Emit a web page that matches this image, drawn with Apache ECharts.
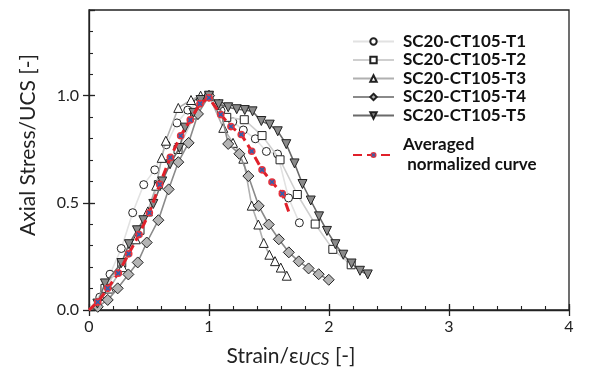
<!DOCTYPE html>
<html><head><meta charset="utf-8">
<script src="https://cdn.jsdelivr.net/npm/echarts@6/dist/echarts.min.js"></script>
<style>html,body{margin:0;padding:0;background:#fff}#c{width:590px;height:386px}</style>
</head><body><div id="c"></div>
<script>
// ---- data (strain/eps_UCS, stress/UCS) ----
var seriesNames = ['SC20-CT105-T1','SC20-CT105-T2','SC20-CT105-T3','SC20-CT105-T4','SC20-CT105-T5'];
var avgName = 'Averaged\n normalized curve';
var yTitle = 'Axial Stress/UCS [-]';
var xTicks = [0,1,2,3,4];
var yTicks = [0.0,0.5,1.0];

var t1 = [[0,0],[0.09,0.06],[0.175,0.167],[0.269,0.287],[0.364,0.454],[0.456,0.585],[0.548,0.654],[0.644,0.771],[0.733,0.873],[0.823,0.933],[0.91,0.97],[1.0,1.0],[1.1,0.93],[1.198,0.878],[1.286,0.84],[1.386,0.799],[1.478,0.74],[1.571,0.728],[1.663,0.523],[1.753,0.407]];
var t2 = [[0,0],[0.133,0.101],[0.273,0.219],[0.425,0.372],[0.578,0.585],[0.742,0.749],[0.88,0.91],[1.0,1.0],[1.148,0.899],[1.294,0.888],[1.442,0.814],[1.592,0.701],[1.736,0.539],[1.885,0.401],[2.032,0.283],[2.185,0.211]];
var t3 = [[0,0],[0.07,0.03],[0.17,0.1],[0.28,0.2],[0.39,0.33],[0.49,0.46],[0.56,0.58],[0.606,0.71],[0.64,0.79],[0.744,0.943],[0.85,0.98],[0.93,1.0],[1.0,1.0],[1.119,0.85],[1.2,0.78],[1.286,0.706],[1.356,0.487],[1.411,0.399],[1.456,0.313],[1.503,0.258],[1.55,0.228],[1.598,0.198],[1.648,0.16]];
var t4 = [[0,0],[0.073,0.015],[0.156,0.047],[0.239,0.101],[0.328,0.166],[0.406,0.222],[0.481,0.315],[0.578,0.419],[0.664,0.563],[0.744,0.69],[0.83,0.78],[0.908,0.915],[1.0,1.0],[1.086,0.958],[1.16,0.775],[1.253,0.729],[1.328,0.625],[1.414,0.486],[1.498,0.399],[1.582,0.33],[1.665,0.269],[1.748,0.227],[1.83,0.194],[1.914,0.167],[1.998,0.141]];
var t5 = [[0,0],[0.07,0.03],[0.133,0.124],[0.27,0.219],[0.333,0.307],[0.40,0.372],[0.453,0.419],[0.536,0.495],[0.61,0.6],[0.675,0.68],[0.753,0.756],[0.80,0.851],[0.87,0.92],[0.93,0.98],[1.0,1.0],[1.08,0.96],[1.16,0.946],[1.231,0.937],[1.298,0.933],[1.363,0.927],[1.436,0.882],[1.506,0.865],[1.573,0.834],[1.644,0.774],[1.713,0.684],[1.779,0.588],[1.848,0.511],[1.917,0.437],[1.983,0.369],[2.053,0.307],[2.119,0.258],[2.188,0.217],[2.258,0.183],[2.323,0.166]];
var avg = [[0,0],[0.073,0.037],[0.156,0.101],[0.244,0.172],[0.331,0.262],[0.417,0.352],[0.503,0.454],[0.589,0.586],[0.678,0.712],[0.764,0.813],[0.844,0.887],[0.925,0.963],[1.0,0.99],[1.098,0.912],[1.183,0.856],[1.269,0.819],[1.356,0.741],[1.442,0.654],[1.525,0.597],[1.611,0.543],[1.675,0.442]];
var avgMarked = [false,true,true,true,true,true,true,true,true,true,true,true,true,true,true,true,true,true,true,true,false];

// ---- styles ----
var svg = '<svg xmlns="http://www.w3.org/2000/svg" width="20" height="20"><circle cx="10" cy="10" r="8.5" fill="#e8323c"/><path d="M5.5 5.5L14.5 14.5M14.5 5.5L5.5 14.5" stroke="#2a63b0" stroke-width="3.2"/></svg>';
var avgSymbol = 'image://data:image/svg+xml;charset=utf-8,' + encodeURIComponent(svg);
var FONT = 'Lato';
var styles = [
  {sym:'circle', size:8, fill:'#ffffff', line:'#e2e2e2'},
  {sym:'rect', size:8, fill:'#ffffff', line:'#cfcfcf'},
  {sym:'triangle', size:9, fill:'#ffffff', line:'#b0b0b0'},
  {sym:'diamond', size:11, fill:'#b4b4b4', line:'#8a8a8a'},
  {sym:'path://M0,0L10,0L5,9Z', size:9, fill:'#8a8a8a', line:'#6a6a6a'}
];
var allData = [t1,t2,t3,t4,t5];
var series = allData.map(function(d,i){
  var s = styles[i];
  return {
    name: seriesNames[i], type:'line', xAxisIndex:0, yAxisIndex:0,
    data: d.map(function(p,j){ return j===0 ? {value:p, symbol:'none'} : p; }),
    symbol: s.sym, symbolSize: s.size, showAllSymbol:true,
    lineStyle:{color:s.line, width:1.6},
    itemStyle:{color:s.fill, borderColor:'#222', borderWidth:1},
    z: 2+i
  };
});
series.push({
  name: avgName, type:'line', xAxisIndex:0, yAxisIndex:0,
  data: avg.map(function(p,j){ return avgMarked[j] ? p : {value:p, symbol:'none'}; }),
  symbol: avgSymbol, symbolSize: 9, showAllSymbol:true,
  lineStyle:{color:'#e0202a', width:3, type:[9,5]},
  itemStyle:{color:'#e0202a'},
  z: 10
});

var axisLine = {show:true, lineStyle:{color:'#222', width:1.3}};
var option = {
  animation:false,
  backgroundColor:'#fff',
  grid:{left:89, right:21, top:10, bottom:76, show:true, borderColor:'#222', borderWidth:1.3, backgroundColor:'transparent'},
  graphic:[{
    type:'text', x:28, y:145, rotation:Math.PI/2,
    style:{text:yTitle, fontFamily:FONT, fontSize:21, fill:'#222', textAlign:'center', textVerticalAlign:'middle', align:'center', verticalAlign:'middle'}
  }],
  legend:[{
    data: seriesNames, orient:'vertical', left:347, top:28, itemWidth:41, itemHeight:8, itemGap:1.5,
    textStyle:{fontFamily:FONT, fontWeight:'bold', fontSize:17, color:'#111', lineHeight:14, padding:[0,0,0,4]}
  },{
    data:[avgName], orient:'vertical', left:347, top:130, itemWidth:41, itemHeight:9,
    textStyle:{fontFamily:FONT, fontWeight:'bold', fontSize:17, color:'#111', lineHeight:20, padding:[0,0,0,4]}
  }],
  xAxis:[{
    type:'value', min:0, max:4, interval:1, position:'bottom',
    axisLine:axisLine, axisTick:{show:true, inside:false, length:6, lineStyle:{color:'#222', width:1.3}},
    axisLabel:{fontFamily:FONT, fontSize:16, color:'#222', margin:9},
    splitLine:{show:false},
    name:'{n|Strain/ε}{s|UCS}{n| [-]}', nameLocation:'middle', nameGap:34,
    nameTextStyle:{padding:[0,76,0,0], rich:{n:{fontFamily:FONT, fontSize:21, color:'#222'}, s:{fontFamily:FONT, fontSize:17, fontStyle:'italic', color:'#222', padding:[7,0,0,0]}}}
  },{
    type:'value', min:0, max:4, interval:0.2, position:'bottom',
    axisLine:{show:false}, axisTick:{show:true, inside:true, length:4, lineStyle:{color:'#222', width:1.1}},
    axisLabel:{show:false}, splitLine:{show:false}
  },{
    type:'value', min:0, max:4, interval:1, position:'bottom',
    axisLine:{show:false}, axisTick:{show:true, inside:true, length:6, lineStyle:{color:'#222', width:1.3}},
    axisLabel:{show:false}, splitLine:{show:false}
  }],
  yAxis:[{
    type:'value', min:0, max:1.4, interval:0.5, position:'left',
    axisLine:axisLine, axisTick:{show:true, inside:false, length:6, lineStyle:{color:'#222', width:1.3}},
    axisLabel:{fontFamily:FONT, fontSize:16, color:'#222', margin:10, showMaxLabel:false,
      formatter:function(v){ return yTicks.indexOf(Math.round(v*10)/10) >= 0 ? v.toFixed(1) : ''; }},
    splitLine:{show:false}
  },{
    type:'value', min:0, max:1.4, interval:0.1, position:'left',
    axisLine:{show:false}, axisTick:{show:true, inside:true, length:4, lineStyle:{color:'#222', width:1.1}},
    axisLabel:{show:false}, splitLine:{show:false}
  },{
    type:'value', min:0, max:1.4, interval:0.5, position:'left',
    axisLine:{show:false}, axisTick:{show:true, inside:true, length:6, lineStyle:{color:'#222', width:1.3}},
    axisLabel:{show:false}, splitLine:{show:false}
  }],
  series: series
};
var chart = echarts.init(document.getElementById('c'), null, {renderer:'canvas'});
chart.setOption(option);
</script></body></html>
